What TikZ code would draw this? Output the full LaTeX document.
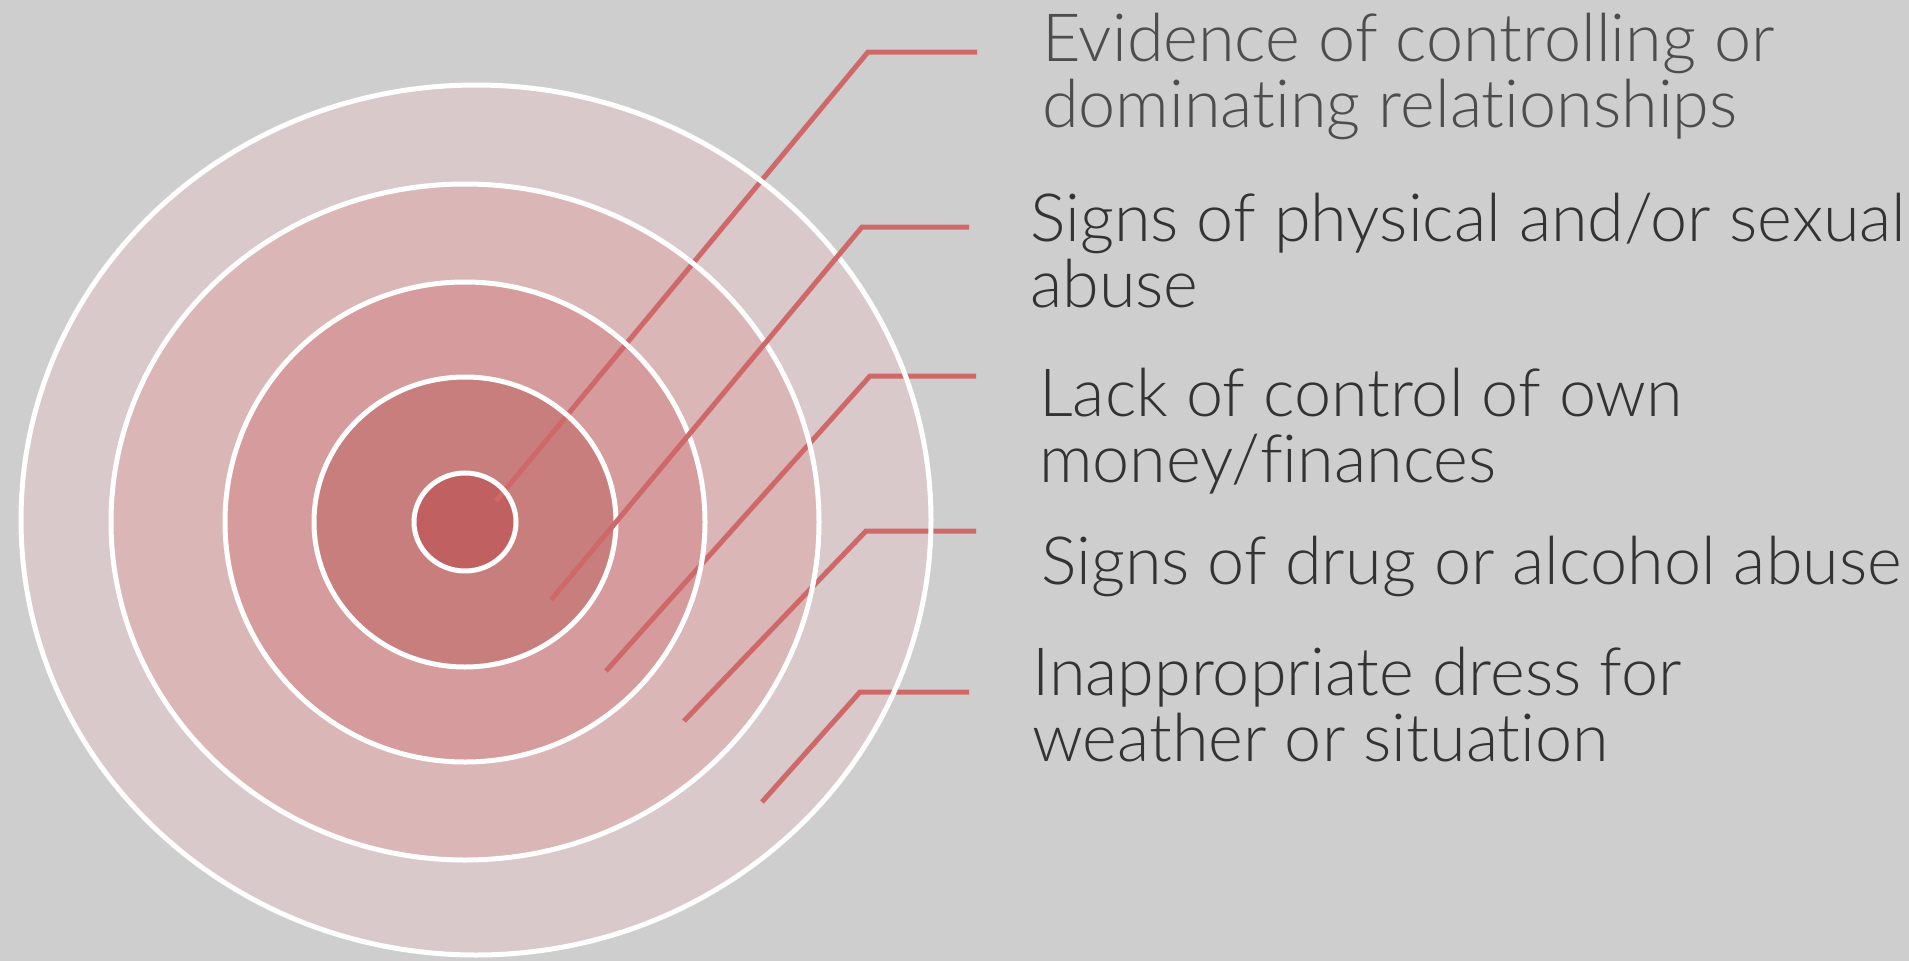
\documentclass[tikz,border=0pt]{standalone}
\usepackage{fontspec}
\setmainfont{Lato}[UprightFont={* Light}, Ligatures=NoCommon]
\definecolor{bg}{HTML}{CECECE}
\definecolor{ringA}{HTML}{D9C9CA}
\definecolor{ringB}{HTML}{DBB6B7}
\definecolor{ringC}{HTML}{D69B9C}
\definecolor{ringD}{HTML}{C97E7E}
\definecolor{ringE}{HTML}{C06060}
\definecolor{linecol}{HTML}{CF6868}
\definecolor{txtA}{HTML}{4D4D4D}
\definecolor{txtB}{HTML}{333333}
\tikzset{
  ringfill/.style={fill=#1},
  ringline/.style={draw=white, line width=5pt},
  conn/.style={draw=linecol, line width=5pt, line join=miter},
  lbl/.style={anchor=base west, inner sep=0pt, align=left, text=txtB,
    font=\fontsize{66.5}{66}\selectfont}
}
\begin{document}
\begin{tikzpicture}[x=1pt,y=-1pt]
\path[fill=bg] (0,0) rectangle (1909,961);
\useasboundingbox (0,0) rectangle (1909,961);
% rings fills
\path[ringfill=ringA] (476,520) ellipse [x radius=455, y radius=435];
\path[ringfill=ringB] (465,522) ellipse [x radius=354, y radius=338];
\path[ringfill=ringC] (465,522) ellipse [x radius=240, y radius=240];
\path[ringfill=ringD] (465,522) ellipse [x radius=151, y radius=145];
\path[ringfill=ringE] (465,522) ellipse [x radius=51, y radius=49];
% connector points
\coordinate (s1) at (496,501); \coordinate (c1) at (868,52);  \coordinate (e1) at (977,52);
\coordinate (s2) at (551,600); \coordinate (c2) at (862,227); \coordinate (e2) at (969,227);
\coordinate (s3) at (606,671); \coordinate (c3) at (870,376); \coordinate (e3) at (976,376);
\coordinate (s4) at (684,721); \coordinate (c4) at (866,531); \coordinate (e4) at (976,531);
\coordinate (s5) at (762,802); \coordinate (c5) at (860,692); \coordinate (e5) at (969,692);
\draw[conn] (s1) -- (c1) -- (e1);
\draw[conn] (s3) -- (c3) -- (e3);
\draw[conn] (s4) -- (c4) -- (e4);
\draw[conn] (s5) -- (c5) -- (e5);
% white ring outlines
\path[ringline] (476,520) ellipse [x radius=455, y radius=435];
\path[ringline] (465,522) ellipse [x radius=354, y radius=338];
\path[ringline] (465,522) ellipse [x radius=240, y radius=240];
\path[ringline] (465,522) ellipse [x radius=151, y radius=145];
\path[ringline] (465,522) ellipse [x radius=51, y radius=49];
\draw[conn] (s2) -- (c2) -- (e2);
% labels (anchored at the baseline of their last line)
\node[lbl, text=txtA] (t1) at (1042,127) {Evidence of controlling or\\dominating relationships};
\node[lbl] (t2) at (1030,307) {Signs of physical and/or sexual\\abuse};
\node[lbl] (t3) at (1039,482) {Lack of control of own\\money/finances};
\node[lbl] (t4) at (1041,584) {Signs of drug or alcohol abuse};
\node[lbl] (t5) at (1032,761) {Inappropriate dress for\\weather or situation};
\end{tikzpicture}
\end{document}
